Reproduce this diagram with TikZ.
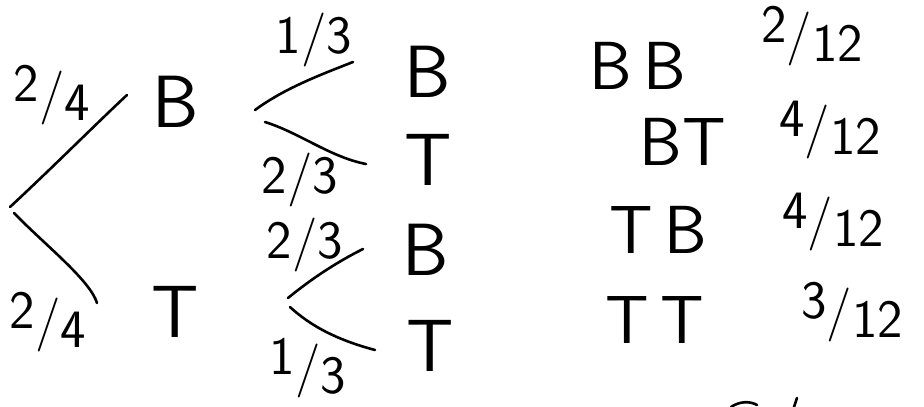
\documentclass[tikz,border=0pt]{standalone}
\usepackage{fontspec}
\tikzset{
  letter/.style={font=\sffamily\fontsize{74}{74}\selectfont, inner sep=0pt},
  pair/.style={font=\sffamily\fontsize{68}{68}\selectfont, inner sep=0pt},
  frac/.style={font=\sffamily\fontsize{54}{54}\selectfont, inner sep=0pt},
  branch/.style={line width=2.6pt, line cap=round}
}
\newcommand\hfr[2]{\raisebox{.4ex}{#1}/\raisebox{-.4ex}{#2}}
\newcommand\lfr[2]{#1/#2}
\begin{document}
\begin{tikzpicture}[x=1pt,y=-1pt]
\useasboundingbox (0,0) rectangle (924,407);
% first stage
\coordinate (r0a) at (10,207);
\coordinate (r0b) at (14,213);
\coordinate (e1) at (127,95);
\coordinate (e2) at (97,303);
\draw[branch] (r0a) .. controls (50,170) and (100,120) .. (e1);
\draw[branch] (r0b) .. controls (45,245) and (90,280) .. (e2);
\node[frac] (p1) at (52,95) {\hfr{2}{4}};
\node[frac] (p2) at (48,322) {\hfr{2}{4}};
\node[letter] (B1) at (176,102) {B};
\node[letter] (T1) at (175,312) {T};
% second stage upper
\coordinate (f1a) at (255,110);
\coordinate (f1b) at (265,122);
\coordinate (g1) at (353,62);
\coordinate (g2) at (366,164);
\draw[branch] (f1a) .. controls (285,88) and (320,75) .. (g1);
\draw[branch] (f1b) .. controls (300,133) and (330,157) .. (g2);
\node[frac] (q1) at (314,40) {\lfr{1}{3}};
\node[frac] (q2) at (300,180) {\lfr{2}{3}};
\node[letter] (B2) at (428,72) {B};
\node[letter] (T2) at (428,160) {T};
% second stage lower
\coordinate (f2a) at (288,298);
\coordinate (f2b) at (290,307);
\coordinate (g3) at (363,249);
\coordinate (g4) at (375,350);
\draw[branch] (f2a) .. controls (310,280) and (335,263) .. (g3);
\draw[branch] (f2b) .. controls (315,330) and (345,342) .. (g4);
\node[frac] (q3) at (305,245) {\lfr{2}{3}};
\node[frac] (q4) at (308,368) {\hfr{1}{3}};
\node[letter] (B3) at (426,250) {B};
\node[letter] (T3) at (430,346) {T};
% outcomes
\node[pair] (o1) at (638,66) {B\,B};
\node[pair] (o2) at (683,142) {BT};
\node[pair] (o3) at (658,230) {T\,B};
\node[pair] (o4) at (655,320) {T\,T};
\node[frac] (r1) at (812,36) {\hfr{2}{12}};
\node[frac] (r2) at (830,130) {\hfr{4}{12}};
\node[frac] (r3) at (833,222) {\hfr{4}{12}};
\node[frac] (r4) at (852,312) {\hfr{3}{12}};
% cut-off fragment at the bottom
\coordinate (c1) at (731,407);
\coordinate (c2) at (757,405);
\coordinate (c3) at (797,398);
\coordinate (c4) at (794,407);
\draw[branch] (c1) .. controls (740,401) and (750,401) .. (c2);
\draw[branch] (c3) -- (c4);
\end{tikzpicture}
\end{document}
